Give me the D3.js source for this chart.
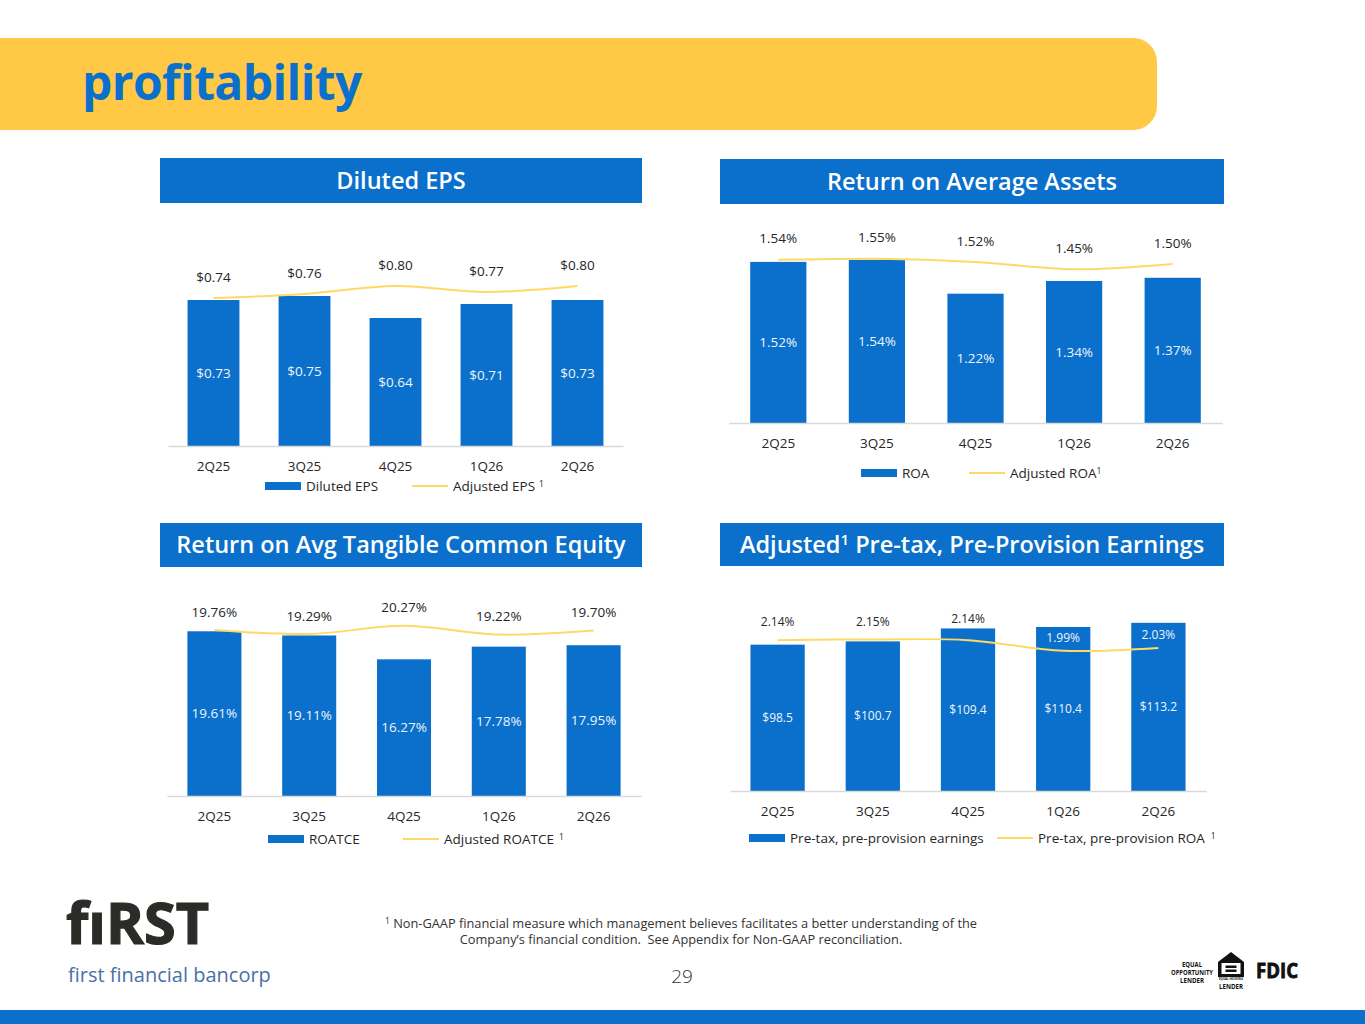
<!DOCTYPE html>
<html lang="en">
<head>
<meta charset="UTF-8">
<title>profitability</title>
<script src="https://d3js.org/d3.v7.min.js"></script>
<style>
  body { margin: 0; background: #fff; }
  svg { display: block; }
  text { font-family: "Open Sans", sans-serif; }
</style>
</head>
<body>
<script>
// ---- data ----
var quarters = ["2Q25", "3Q25", "4Q25", "1Q26", "2Q26"];
var dilutedEps = [0.73, 0.75, 0.64, 0.71, 0.73];
var adjustedEps = [0.74, 0.76, 0.80, 0.77, 0.80];
var roa = [1.52, 1.54, 1.22, 1.34, 1.37];
var adjustedRoa = [1.54, 1.55, 1.52, 1.45, 1.50];
var roatce = [19.61, 19.11, 16.27, 17.78, 17.95];
var adjustedRoatce = [19.76, 19.29, 20.27, 19.22, 19.70];
var pppEarnings = [98.5, 100.7, 109.4, 110.4, 113.2];   // $ millions
var pppRoa = [2.14, 2.15, 2.14, 1.99, 2.03];

var blue = "#0A70CC";
var gold = "#FFD966";
var yellow = "#FFC845";
var dark = "#262626";

var money2 = function(v) { return "$" + v.toFixed(2); };
var money1 = function(v) { return "$" + v.toFixed(1); };
var pct = function(v) { return v.toFixed(2) + "%"; };

var svg = d3.select("body").append("svg")
    .attr("width", 1365)
    .attr("height", 1024);

// header band
svg.append("path")
    .attr("d", "M0,38 H1133 A24,24 0 0 1 1157,62 V106 A24,24 0 0 1 1133,130 H0 Z")
    .attr("fill", yellow);
svg.append("text")
    .attr("x", 82).attr("y", 100)
    .attr("fill", blue)
    .attr("font-size", 48)
    .attr("font-weight", 700)
    .attr("letter-spacing", -0.6)
    .text("profitability");

// bottom band
svg.append("rect")
    .attr("x", 0).attr("y", 1010)
    .attr("width", 1365).attr("height", 14)
    .attr("fill", blue);

// panel layouts
var panels = [
    {
        title: [{t: "Diluted EPS"}],
        box: [160, 158, 482, 45],
        x0: 168, x1: 623, base: 446, top: 246, max: 1.0,
        bars: dilutedEps, line: adjustedEps,
        fmtBar: money2, fmtLine: money2,
        gap: 21, font: 13.5, lineFont: 13.5,
        legendY: 486,
        legend: [
            {type: "bar", x: 265, label: "Diluted EPS"},
            {type: "line", x: 412, label: "Adjusted EPS", sup: "1", supGap: 4}
        ]
    },
    {
        title: [{t: "Return on Average Assets"}],
        box: [720, 159, 504, 45],
        x0: 729, x1: 1222, base: 423, top: 211, max: 2.0,
        bars: roa, line: adjustedRoa,
        fmtBar: pct, fmtLine: pct,
        gap: 21, font: 13.5, lineFont: 13.5,
        legendY: 473,
        legend: [
            {type: "bar", x: 861, label: "ROA"},
            {type: "line", x: 969, label: "Adjusted ROA", sup: "1", supGap: 0}
        ]
    },
    {
        title: [{t: "Return on Avg Tangible Common Equity"}],
        box: [160, 523, 482, 44],
        x0: 167, x1: 641, base: 796, top: 586, max: 25,
        bars: roatce, line: adjustedRoatce,
        fmtBar: pct, fmtLine: pct,
        gap: 18, font: 13.5, lineFont: 13.5,
        legendY: 839,
        legend: [
            {type: "bar", x: 268, label: "ROATCE"},
            {type: "line", x: 403, label: "Adjusted ROATCE", sup: "1", supGap: 5}
        ]
    },
    {
        title: [{t: "Adjusted"}, {t: "1", sup: true}, {t: " Pre-tax, Pre-Provision Earnings"}],
        box: [720, 523, 504, 43],
        x0: 730, x1: 1206, base: 791, top: 583, max: 140,
        lineTop: 579.5, lineMax: 3,
        bars: pppEarnings, line: pppRoa,
        fmtBar: money1, fmtLine: pct,
        gap: 18, font: 12, lineFont: 12,
        legendY: 838,
        legend: [
            {type: "bar", x: 749, label: "Pre-tax, pre-provision earnings"},
            {type: "line", x: 997, label: "Pre-tax, pre-provision ROA", sup: "1", supGap: 6}
        ]
    }
];

panels.forEach(function(p) {
    var g = svg.append("g");

    // title box
    g.append("rect")
        .attr("x", p.box[0]).attr("y", p.box[1])
        .attr("width", p.box[2]).attr("height", p.box[3])
        .attr("fill", blue);
    var title = g.append("text")
        .attr("x", p.box[0] + p.box[2] / 2)
        .attr("y", p.box[1] + p.box[3] / 2 + 8)
        .attr("text-anchor", "middle")
        .attr("fill", "#fff")
        .attr("font-size", 23.5)
        .attr("font-weight", 600);
    p.title.forEach(function(s) {
        if (s.sup) {
            title.append("tspan").attr("font-size", 15).attr("dy", -8).text(s.t);
        } else {
            title.append("tspan").attr("dy", s === p.title[0] ? 0 : 8).text(s.t);
        }
    });

    var x = d3.scaleBand()
        .domain(quarters)
        .range([p.x0, p.x1])
        .paddingInner(0.43)
        .paddingOuter(0.215);

    var y = d3.scaleLinear()
        .domain([0, p.max])
        .range([p.base, p.top]);

    var yLine = p.lineMax
        ? d3.scaleLinear().domain([0, p.lineMax]).range([p.base, p.lineTop])
        : y;

    // bars
    g.selectAll("rect.bar")
        .data(p.bars)
        .enter()
        .append("rect")
        .attr("class", "bar")
        .attr("x", function(d, i) { return x(quarters[i]); })
        .attr("y", function(d) { return y(d); })
        .attr("width", x.bandwidth())
        .attr("height", function(d) { return p.base - y(d); })
        .attr("fill", blue);

    // x axis
    var axis = g.append("g")
        .attr("transform", "translate(0," + p.base + ")")
        .call(d3.axisBottom(x).tickSize(0).tickSizeOuter(0).tickPadding(15));
    axis.select(".domain").attr("stroke", "#d9d9d9").attr("stroke-width", 1.5);
    axis.selectAll("text")
        .attr("font-family", "Open Sans, sans-serif")
        .attr("font-size", 13.5)
        .attr("fill", dark);

    // bar labels
    g.selectAll("text.barlabel")
        .data(p.bars)
        .enter()
        .append("text")
        .attr("class", "barlabel")
        .attr("x", function(d, i) { return x(quarters[i]) + x.bandwidth() / 2; })
        .attr("y", function(d) { return (y(d) + p.base) / 2; })
        .attr("dy", "0.35em")
        .attr("text-anchor", "middle")
        .attr("fill", "#eef4fb")
        .attr("font-size", p.font)
        .text(p.fmtBar);

    // adjusted line
    var line = d3.line()
        .x(function(d, i) { return x(quarters[i]) + x.bandwidth() / 2; })
        .y(function(d) { return yLine(d); })
        .curve(d3.curveCatmullRom.alpha(0.5));

    g.append("path")
        .datum(p.line)
        .attr("d", line)
        .attr("fill", "none")
        .attr("stroke", gold)
        .attr("stroke-width", 2);

    // line labels: above the point, or inside the bar when there is room there
    g.selectAll("text.linelabel")
        .data(p.line)
        .enter()
        .append("text")
        .attr("class", "linelabel")
        .each(function(d, i) {
            var ly = yLine(d);
            var barTop = y(p.bars[i]);
            var inside = barTop < ly - 20;
            var cy = inside ? ly - 13 : Math.min(ly - p.gap, barTop - 10);
            d3.select(this)
                .attr("x", x(quarters[i]) + x.bandwidth() / 2)
                .attr("y", cy)
                .attr("fill", inside ? "#eef4fb" : dark);
        })
        .attr("dy", "0.35em")
        .attr("text-anchor", "middle")
        .attr("font-size", p.lineFont)
        .text(p.fmtLine);

    // legend
    p.legend.forEach(function(item) {
        if (item.type === "bar") {
            g.append("rect")
                .attr("x", item.x).attr("y", p.legendY - 4)
                .attr("width", 36).attr("height", 8)
                .attr("fill", blue);
        } else {
            g.append("line")
                .attr("x1", item.x).attr("x2", item.x + 36)
                .attr("y1", p.legendY).attr("y2", p.legendY)
                .attr("stroke", gold)
                .attr("stroke-width", 2);
        }
        var t = g.append("text")
            .attr("x", item.x + 41)
            .attr("y", p.legendY)
            .attr("dy", "0.35em")
            .attr("font-size", 13.5)
            .attr("fill", dark)
            .text(item.label);
        if (item.sup) {
            t.append("tspan")
                .attr("dx", item.supGap)
                .attr("dy", "-0.45em")
                .attr("font-size", 8.5)
                .text(item.sup);
        }
    });
});

// footnote
var foot = svg.append("g")
    .attr("fill", "#333");
var f1 = foot.append("text")
    .attr("x", 681).attr("y", 928)
    .attr("text-anchor", "middle")
    .attr("font-size", 12.8)
    .attr("font-family", "Roboto, sans-serif");
f1.append("tspan").attr("font-size", 8.5).attr("dy", -4).text("1");
f1.append("tspan").attr("dy", 4)
    .text(" Non-GAAP financial measure which management believes facilitates a better understanding of the");
foot.append("text")
    .attr("x", 681).attr("y", 944)
    .attr("text-anchor", "middle")
    .attr("font-size", 12.8)
    .attr("font-family", "Roboto, sans-serif")
    .attr("xml:space", "preserve")
    .text("Company\u2019s financial condition.  See Appendix for Non-GAAP reconciliation.");
foot.append("text")
    .attr("x", 682).attr("y", 983)
    .attr("text-anchor", "middle")
    .attr("font-size", 19)
    .attr("font-weight", 300)
    .attr("font-family", "Roboto, sans-serif")
    .text("29");

// bank logo
svg.append("text")
    .attr("x", 66).attr("y", 944)
    .attr("font-family", "DejaVu Sans, sans-serif")
    .attr("font-weight", 700)
    .attr("font-size", 57)
    .attr("fill", "#2d2b27")
    .attr("stroke", "#2d2b27")
    .attr("stroke-width", 1.2)
    .attr("textLength", 143)
    .attr("lengthAdjust", "spacingAndGlyphs")
    .text("f\u0131RST");
svg.append("text")
    .attr("x", 68).attr("y", 982)
    .attr("font-family", "Lato, sans-serif")
    .attr("font-size", 20)
    .attr("fill", "#4a70a8")
    .text("first financial bancorp");

// equal opportunity / equal housing / FDIC marks
var marks = svg.append("g")
    .attr("font-family", "DejaVu Sans Condensed, DejaVu Sans, sans-serif")
    .attr("font-weight", 700)
    .attr("fill", "#111")
    .attr("text-anchor", "middle");
[["EQUAL", 966.5, 20], ["OPPORTUNITY", 974.5, 42], ["LENDER", 982.5, 24]].forEach(function(r) {
    marks.append("text")
        .attr("x", 1192).attr("y", r[1])
        .attr("font-size", 6.6)
        .attr("textLength", r[2])
        .attr("lengthAdjust", "spacingAndGlyphs")
        .text(r[0]);
});
marks.append("path")
    .attr("d", "M1231,952 L1218,962 V977 H1244 V962 Z")
    .attr("fill", "#111");
marks.append("rect")
    .attr("x", 1221.5).attr("y", 963)
    .attr("width", 19).attr("height", 11)
    .attr("fill", "#fff");
marks.append("rect").attr("x", 1225.5).attr("y", 965.5).attr("width", 11).attr("height", 2.5);
marks.append("rect").attr("x", 1225.5).attr("y", 969.5).attr("width", 11).attr("height", 2.5);
marks.append("text")
    .attr("x", 1231).attr("y", 980)
    .attr("font-size", 3)
    .attr("textLength", 24)
    .attr("lengthAdjust", "spacingAndGlyphs")
    .text("EQUAL HOUSING");
marks.append("text")
    .attr("x", 1231).attr("y", 989)
    .attr("font-size", 7)
    .attr("textLength", 24)
    .attr("lengthAdjust", "spacingAndGlyphs")
    .text("LENDER");
marks.append("text")
    .attr("x", 1277).attr("y", 978)
    .attr("font-size", 21)
    .attr("font-weight", 700)
    .attr("font-family", "DejaVu Sans, sans-serif")
    .attr("stroke", "#111")
    .attr("stroke-width", 0.8)
    .attr("textLength", 42)
    .attr("lengthAdjust", "spacingAndGlyphs")
    .text("FDIC");
</script>
</body>
</html>
